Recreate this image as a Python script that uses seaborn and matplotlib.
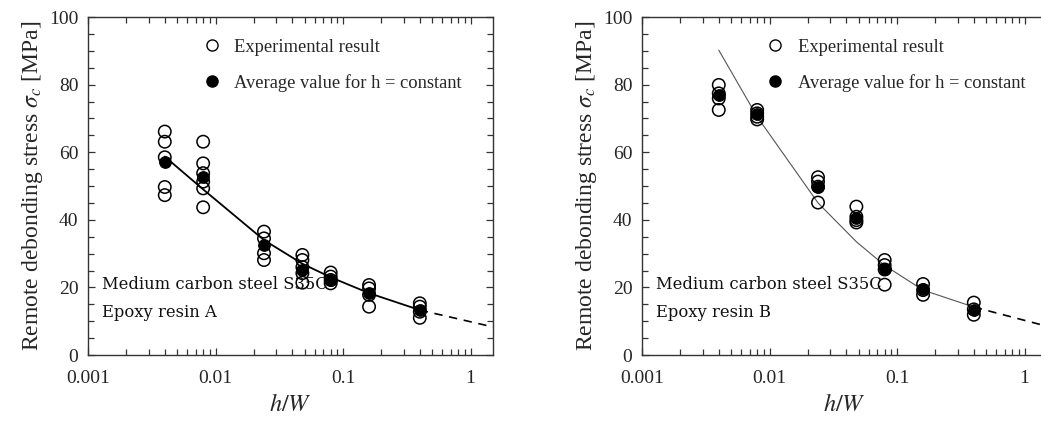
import numpy as np
import pandas as pd
import matplotlib
matplotlib.use("Agg")
import matplotlib.pyplot as plt
import seaborn as sns
from matplotlib.ticker import MultipleLocator, LogLocator, FixedLocator, FixedFormatter, NullFormatter
from matplotlib.lines import Line2D

sns.set_theme(style="ticks")
plt.rcParams['font.family'] = ['Liberation Serif', 'DejaVu Serif']
plt.rcParams['mathtext.fontset'] = 'stix'

# ---------------- data ----------------
hw = [0.004, 0.008, 0.024, 0.048, 0.08, 0.16, 0.4]

exp_A = [
    [66.1, 63.1, 58.5, 49.7, 47.3],
    [63.1, 56.7, 53.8, 51.3, 49.3, 43.7],
    [36.5, 34.5, 30.1, 28.1],
    [29.6, 28.1, 26.0, 24.2, 21.4],
    [24.4, 23.2, 22.2, 21.2],
    [20.7, 19.7, 17.8, 14.3],
    [15.3, 14.3, 12.8, 11.0],
]
avg_A = [57.2, 52.8, 32.5, 25.1, 22.2, 18.3, 13.3]
curve_A = [58.7, 49.0, 34.0, 27.0, 23.0, 18.3, 13.3]

exp_B = [
    [79.9, 77.4, 75.9, 72.5],
    [72.5, 71.5, 70.5, 69.7],
    [52.6, 51.3, 49.8, 45.1],
    [43.9, 40.9, 39.9, 39.2],
    [28.1, 26.6, 25.3, 20.8],
    [21.0, 19.2, 17.8],
    [15.5, 13.5, 11.9],
]
avg_B = [76.8, 71.2, 49.6, 40.5, 25.3, 19.4, 13.3]
curve_B = [90.2, 70.5, 45.0, 33.5, 26.5, 19.2, 14.2]

ext_x = [0.4, 1.5]
ext_A = [13.3, 8.3]
ext_B = [14.2, 8.5]

x_ticks = [0.001, 0.01, 0.1, 1]
x_ticklabels = ["0.001", "0.01", "0.1", "1"]
y_ticks = [0, 20, 40, 60, 80, 100]

labels_A = ["Medium carbon steel S35C", "Epoxy resin A"]
labels_B = ["Medium carbon steel S35C", "Epoxy resin B"]
leg_labels = ["Experimental result", "Average value for h = constant"]
ylabel = r"Remote debonding stress $\sigma_c$ [MPa]"
xlabel = r"$h/W$"

# ---------------- figure ----------------
W, H = 1041, 430
fig = plt.figure(figsize=(W / 100, H / 100), dpi=100)
fig.patch.set_facecolor("white")

def px_axes(l, t, r, b):
    return [l / W, (H - b) / H, (r - l) / W, (b - t) / H]

ax1 = fig.add_axes(px_axes(88, 17, 493, 355))
ax2 = fig.add_axes(px_axes(642, 17, 1047, 355))


def panel(ax, exp, avg, curve, ext, curve_color, curve_lw, notes, leg_x, right_ticks):
    ex_df = pd.DataFrame({
        "hw": [h for h, vals in zip(hw, exp) for _ in vals],
        "s": [v for vals in exp for v in vals],
    })
    av_df = pd.DataFrame({"hw": hw, "s": avg})
    cv_df = pd.DataFrame({"hw": hw, "s": curve})
    ext_df = pd.DataFrame({"hw": ext_x, "s": ext})

    sns.lineplot(data=cv_df, x="hw", y="s", ax=ax, color=curve_color,
                 linewidth=curve_lw, sort=False, zorder=2)
    sns.lineplot(data=ext_df, x="hw", y="s", ax=ax, color="black",
                 linewidth=1.2, linestyle=(0, (5, 4)), zorder=2)
    sns.scatterplot(data=ex_df, x="hw", y="s", ax=ax, marker="o", s=80,
                    facecolor="none", edgecolor="black", linewidth=1.1, zorder=3)
    sns.scatterplot(data=av_df, x="hw", y="s", ax=ax, marker="o", s=70,
                    color="black", edgecolor="black", linewidth=0.8, zorder=4)

    ax.set_xscale("log")
    ax.set_xlim(0.001, 1.5)
    ax.set_ylim(0, 100)
    ax.xaxis.set_major_locator(FixedLocator(x_ticks))
    ax.xaxis.set_major_formatter(FixedFormatter(x_ticklabels))
    ax.xaxis.set_minor_locator(LogLocator(base=10, subs=np.arange(2, 10), numticks=20))
    ax.xaxis.set_minor_formatter(NullFormatter())
    ax.yaxis.set_major_locator(FixedLocator(y_ticks))
    ax.yaxis.set_minor_locator(MultipleLocator(5))

    ax.tick_params(which="both", direction="in", top=True, right=right_ticks,
                   color="#333333", width=0.9)
    ax.tick_params(which="major", length=5)
    ax.tick_params(which="minor", length=4)
    ax.tick_params(axis="x", which="major", labelsize=14, pad=11)
    ax.tick_params(axis="y", which="major", labelsize=14, pad=7)
    for sp in ax.spines.values():
        sp.set_color("#333333")
        sp.set_linewidth(1.0)

    ax.set_ylabel(ylabel, fontsize=17, labelpad=3)
    ax.set_xlabel(xlabel, fontsize=17.5, labelpad=5)

    ax.text(0.035, 0.21, notes[0], transform=ax.transAxes, fontsize=11.8,
            family="DejaVu Serif", va="center", ha="left", color="#111111")
    ax.text(0.035, 0.127, notes[1], transform=ax.transAxes, fontsize=11.8,
            family="DejaVu Serif", va="center", ha="left", color="#111111")

    handles = [
        Line2D([], [], marker="o", linestyle="none", markersize=8,
               markerfacecolor="none", markeredgecolor="black", markeredgewidth=1.0),
        Line2D([], [], marker="o", linestyle="none", markersize=8,
               markerfacecolor="black", markeredgecolor="black"),
    ]
    ax.legend(handles, leg_labels, loc="upper left",
              bbox_to_anchor=(leg_x, 0.958), frameon=False,
              fontsize=13.3, labelspacing=0.98, handlelength=0.8,
              handletextpad=0.8, borderaxespad=0)
    return ax


panel(ax1, exp_A, avg_A, curve_A, ext_A, "black", 1.3, labels_A, 0.27, True)
panel(ax2, exp_B, avg_B, curve_B, ext_B, "#555555", 0.8, labels_B, 0.293, False)

fig.savefig("out.png", dpi=100, facecolor="white")
